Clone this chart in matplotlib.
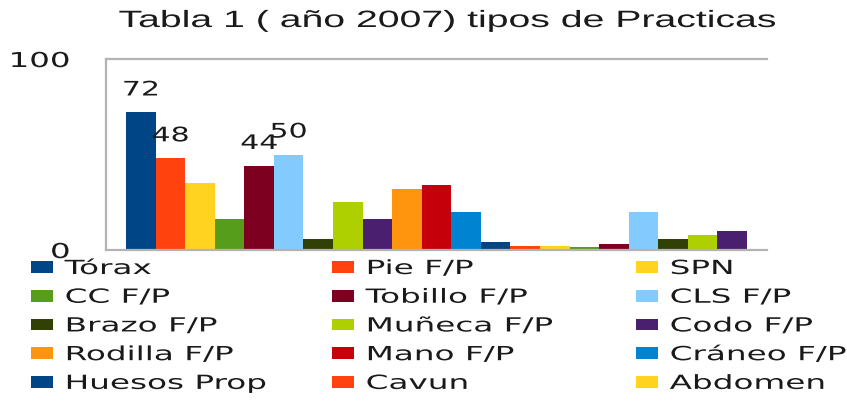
import numpy as np
import matplotlib
matplotlib.use("Agg")
import matplotlib.pyplot as plt
from matplotlib.patheffects import AbstractPathEffect
from matplotlib.transforms import Affine2D

# data
title = "Tabla 1 ( año 2007) tipos de Practicas"
legend_labels = ["Tórax", "Pie F/P", "SPN", "CC F/P", "Tobillo F/P", "CLS F/P",
                 "Brazo F/P", "Muñeca F/P", "Codo F/P", "Rodilla F/P", "Mano F/P",
                 "Cráneo F/P", "Huesos Prop", "Cavun", "Abdomen"]
values = [72, 48, 35, 16, 44, 50, 6, 25, 16, 32, 34, 20, 4, 2, 2,
          1.5, 3, 20, 6, 8, 10]
palette = ["#004586", "#ff420e", "#ffd320", "#579d1c", "#7e0021", "#83caff",
           "#314004", "#aecf00", "#4b1f6f", "#ff950e", "#c5000b", "#0084d1"]
yticks = [0, 100]
label_min = 40  # only the tall bars carry a value label

W, H = 847, 401
TXT = "#1a1a1a"
GRID = "#b3b3b3"


class Stretch(AbstractPathEffect):
    """Widen text horizontally (the reference chart was resized wider)."""

    def __init__(self, sx, anchor="left"):
        super().__init__()
        self.sx = sx
        self.anchor = anchor

    def draw_path(self, renderer, gc, tpath, affine, rgbFace=None):
        ext = tpath.get_extents()
        x0 = {"left": 0.0, "center": (ext.x0 + ext.x1) / 2, "right": ext.x1}[self.anchor]
        st = Affine2D().translate(-x0, 0).scale(self.sx, 1).translate(x0, 0)
        renderer.draw_path(gc, tpath, st + affine, rgbFace)


fig = plt.figure(figsize=(W / 100, H / 100), dpi=100)
ax = fig.add_axes([106 / W, 1 - 250 / H, (767 - 106) / W, (250 - 59) / H])

x = np.arange(len(values))
colors = [palette[i % len(palette)] for i in range(len(values))]
bars = ax.bar(x, values, width=1.0, color=colors, linewidth=0, zorder=2)

ax.set_xlim(-1.18, len(values) - 1 + 1.18)
ax.set_ylim(0, 100)
ax.set_xticks([])
ax.set_yticks(yticks)
ax.set_yticklabels([str(t) for t in yticks])
ax.tick_params(axis="y", length=0, pad=26, labelsize=14.8, labelcolor=TXT)
for lbl in ax.get_yticklabels():
    lbl.set_path_effects([Stretch(1.58, "right")])

for side in ["left", "top", "bottom"]:
    ax.spines[side].set_color(GRID)
    ax.spines[side].set_linewidth(1.6)
ax.spines["right"].set_visible(False)

for i, v in enumerate(values):
    if v >= label_min:
        ax.annotate(str(v), (x[i], v), xytext=(0, 16.2), textcoords="offset points",
                    ha="center", va="center", fontsize=14.4, color=TXT,
                    path_effects=[Stretch(1.5, "center")])

fig.text(448 / W, 1 - 27 / H, title, ha="center", va="baseline",
         fontsize=17, family="Liberation Sans", color=TXT,
         path_effects=[Stretch(1.66, "center")])

# legend: three columns filled row by row
col_x = [31, 332, 636]
for c in range(3):
    idx = list(range(c, len(legend_labels), 3))
    leg = fig.legend([bars.patches[i] for i in idx], [legend_labels[i] for i in idx],
                     loc="upper left", bbox_to_anchor=(col_x[c] / W, 1 - 259 / H),
                     frameon=False, fontsize=14, borderpad=0, borderaxespad=0,
                     handlelength=1.13, handleheight=0.55, handletextpad=0.6,
                     labelspacing=0.5)
    for t in leg.get_texts():
        t.set_color(TXT)
        t.set_path_effects([Stretch(1.68, "left")])

fig.savefig("out.png", dpi=100, facecolor="white")
